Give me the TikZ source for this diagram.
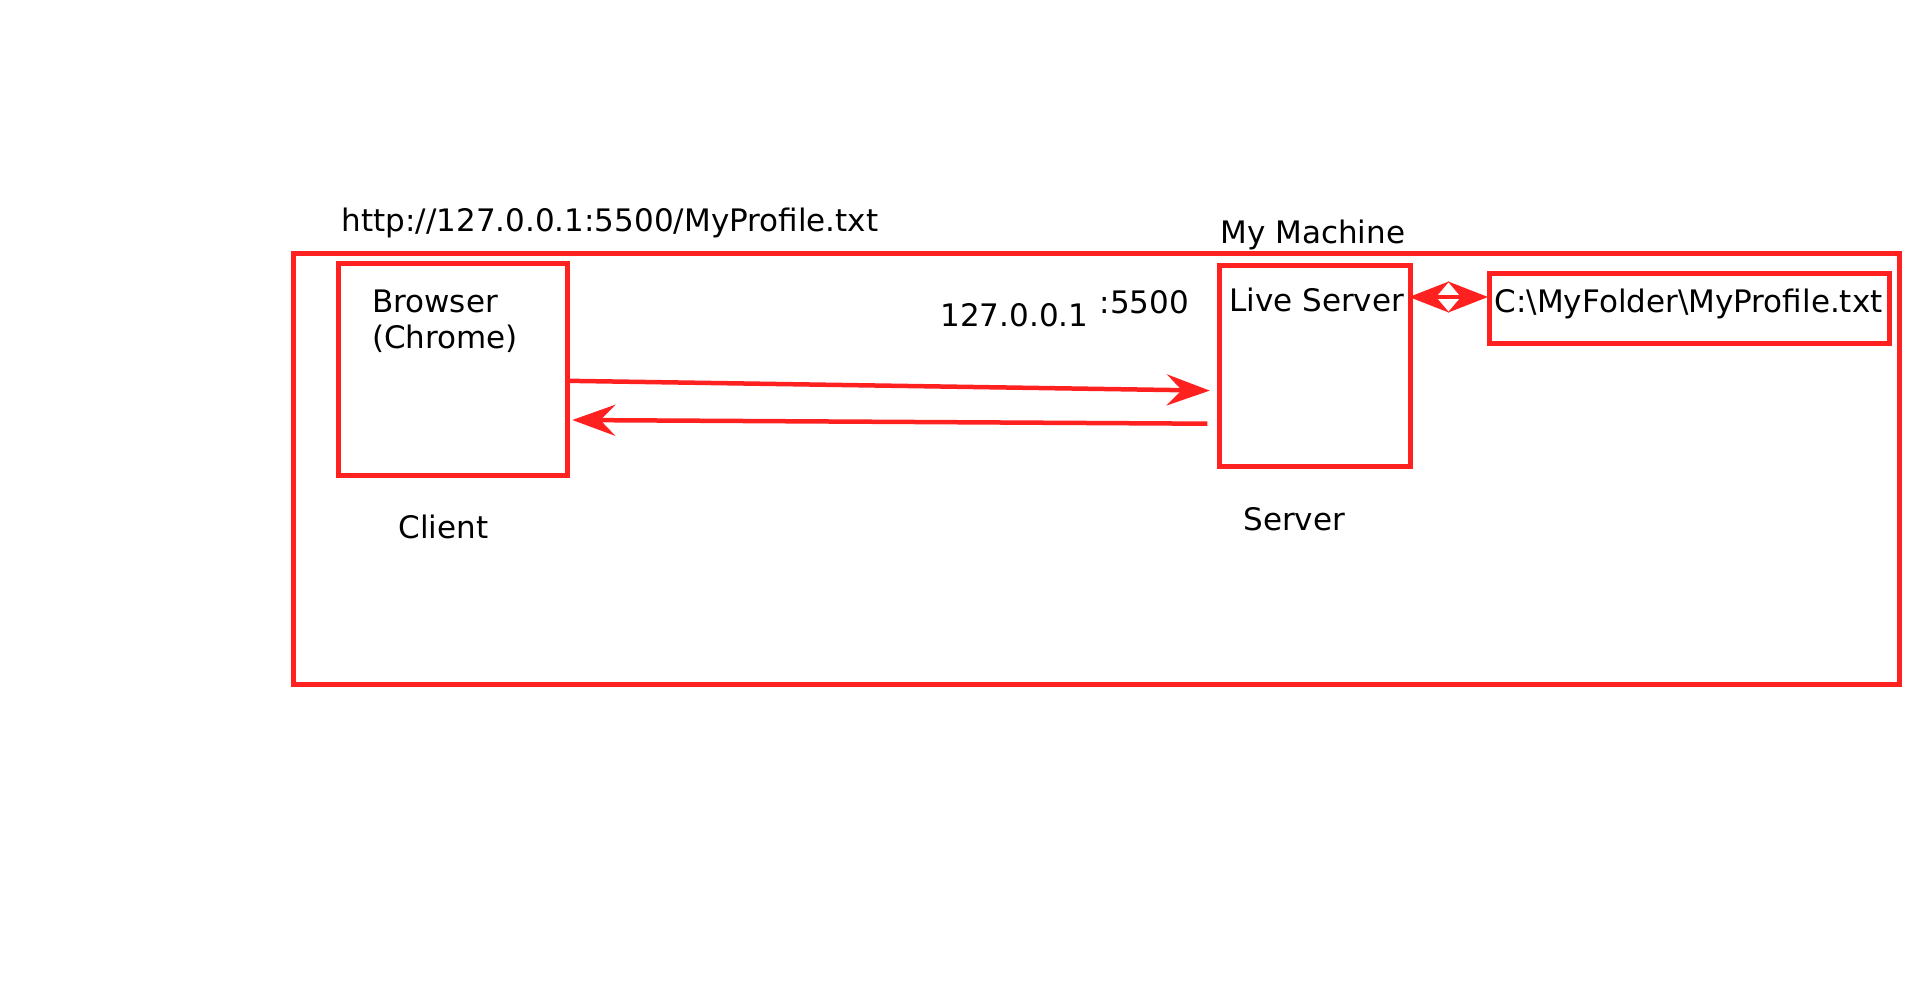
\documentclass[tikz,border=0pt]{standalone}
\usepackage{fontspec}
\setmainfont{DejaVu Sans}
\usetikzlibrary{arrows.meta,calc}
\definecolor{myred}{RGB}{255,32,32}
\begin{document}
\begin{tikzpicture}[x=1pt,y=-1pt,
 box/.style={draw=myred, line width=5pt, inner sep=0pt, outer sep=0pt, anchor=north west},
 txt/.style={inner sep=0pt, font=\fontsize{31}{36}\selectfont},
 arr/.style={draw=myred, line width=4.5pt, -{Stealth[length=43pt,width=31pt,inset=15pt]}},
 darr/.style={draw=myred, line width=4.5pt, {Stealth[length=40pt,width=31pt,inset=13pt]}-{Stealth[length=40pt,width=31pt,inset=13pt]}},
]
\useasboundingbox (0,0) rectangle (1920,991);
\node[box, minimum width=1606pt, minimum height=431.5pt] (machine) at (293,253) {};
\node[box, minimum width=228.5pt, minimum height=211.5pt] (browser) at (338.5,263.7) {};
\node[box, minimum width=191pt, minimum height=201pt] (server) at (1219.6,265.7) {};
\node[box, minimum width=400pt, minimum height=70pt] (file) at (1489,273) {};

\node[txt] (url) at (610,223) {http://127.0.0.1:5500/MyProfile.txt};
\node[txt] (mymachine) at (1312.7,235) {My Machine};
\node[txt, anchor=west, align=left] (browsertxt) at (372,321.5) {Browser\\(Chrome)};
\node[txt] (client) at (443.3,526.5) {Client};
\node[txt, anchor=west] (livetxt) at (1229,300) {Live Server};
\node[txt] (servertxt) at (1294.3,519.2) {Server};
\node[txt] (filetxt) at (1688.6,304) {C:\textbackslash MyFolder\textbackslash MyProfile.txt};
\node[txt] (ip) at (1014.5,315.5) {127.0.0.1};
\node[txt] (port) at (1144.3,302.5) {:5500};

\draw[arr] ($(browser.north east)+(0,117.1)$) -- ($(server.north west)+(-9.8,124.9)$);
\draw[arr] ($(server.north west)+(-12.2,158)$) -- ($(browser.north east)+(5.3,156.3)$);
\draw[darr] ($(server.north east)+(-1.6,31.3)$) -- ($(file.north west)+(-1,24)$);
\end{tikzpicture}
\end{document}
